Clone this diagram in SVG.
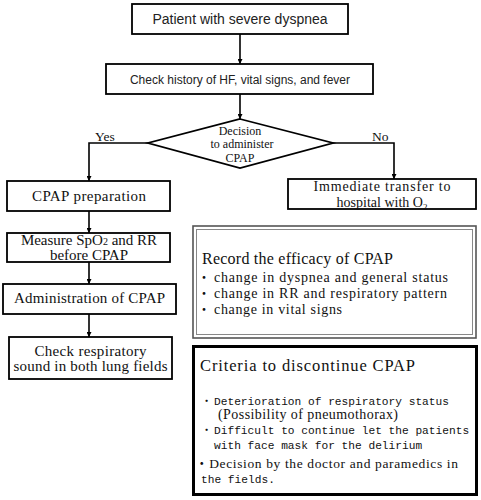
<svg xmlns="http://www.w3.org/2000/svg" width="481" height="500" viewBox="0 0 481 500">
<style>
.box{fill:#fff;stroke:#000;stroke-width:1.8}
.conn{fill:none;stroke:#000;stroke-width:1.6}
.sans{font-family:"Liberation Sans",Arial,sans-serif;fill:#222}
.ser{font-family:"Liberation Serif","Noto Sans CJK JP",serif;fill:#111}
.mono{font-family:"Liberation Mono","Noto Sans CJK JP",monospace;fill:#111;font-size:11.2px}
.c{text-anchor:middle}
</style>
<defs>
<marker id="ah" viewBox="0 0 10 10" refX="10" refY="5" markerWidth="5" markerHeight="5" orient="auto" markerUnits="userSpaceOnUse">
<path d="M0,0 L10,5 L0,10 z" fill="#000"/>
</marker>
</defs>
<rect width="481" height="500" fill="#fff"/>
<g id="connectors">
<path class="conn" d="M240,34 V64" marker-end="url(#ah)"/>
<path class="conn" d="M240,94 V119" marker-end="url(#ah)"/>
<path class="conn" d="M148,143 H89 V181" marker-end="url(#ah)"/>
<path class="conn" d="M333,143 H394 V179" marker-end="url(#ah)"/>
<path class="conn" d="M89,211 V233" marker-end="url(#ah)"/>
<path class="conn" d="M89,262 V284" marker-end="url(#ah)"/>
<path class="conn" d="M89,314 V337" marker-end="url(#ah)"/>
<text class="ser" x="95" y="141" font-size="13.5">Yes</text>
<text class="ser" x="372" y="141" font-size="13.5">No</text>
</g>
<g id="start">
<rect class="box" x="132" y="4" width="216" height="30"/>
<text class="sans c" x="240" y="24" font-size="14">Patient with severe dyspnea</text>
</g>
<g id="check-history">
<rect class="box" x="106" y="64" width="267" height="30"/>
<text class="sans c" x="240" y="84" font-size="12">Check history of HF, vital signs, and fever</text>
</g>
<g id="decision">
<polygon class="box" points="240,119 333,143 240,168 148,143"/>
<text class="ser c" x="240" y="135" font-size="12">Decision</text>
<text class="ser c" x="242" y="148" font-size="12">to administer</text>
<text class="ser c" x="240" y="162" font-size="12">CPAP</text>
</g>
<g id="cpap-prep">
<rect class="box" x="7" y="181" width="163" height="30"/>
<text class="ser c" x="89" y="201" font-size="15" textLength="114">CPAP preparation</text>
</g>
<g id="measure">
<rect class="box" x="7" y="233" width="163" height="29"/>
<text class="ser c" x="89" y="245" font-size="15">Measure SpO<tspan font-size="10">2</tspan> and RR</text>
<text class="ser c" x="89" y="260" font-size="15" textLength="78">before CPAP</text>
</g>
<g id="administration">
<rect class="box" x="3" y="284" width="173" height="30"/>
<text class="ser c" x="89.5" y="303" font-size="15" textLength="151">Administration of CPAP</text>
</g>
<g id="check-sound">
<rect class="box" x="9" y="337" width="163" height="42"/>
<text class="ser c" x="90.5" y="356" font-size="15" textLength="112">Check respiratory</text>
<text class="ser c" x="90.5" y="371" font-size="15" textLength="154">sound in both lung fields</text>
</g>
<g id="transfer">
<rect class="box" x="288" y="179" width="188" height="30"/>
<text class="ser c" x="382" y="191" font-size="14" textLength="137">Immediate transfer to</text>
<text class="ser c" x="382" y="207" font-size="14">hospital with O<tspan font-size="9" dy="3">2</tspan></text>
</g>
<g id="record">
<rect x="193" y="226" width="283" height="112" fill="#fff" stroke="#555" stroke-width="1.6"/>
<rect x="196.5" y="229.5" width="276" height="105" fill="none" stroke="#888" stroke-width="1"/>
<text class="ser" x="202" y="264" font-size="16" textLength="191">Record the efficacy of CPAP</text>
<text class="ser" x="197.5" y="282" font-size="13">・</text>
<text class="ser" x="214" y="282" font-size="14" textLength="234">change in dyspnea and general status</text>
<text class="ser" x="197.5" y="298" font-size="13">・</text>
<text class="ser" x="214" y="298" font-size="14" textLength="233">change in RR and respiratory pattern</text>
<text class="ser" x="197.5" y="314" font-size="13">・</text>
<text class="ser" x="214" y="314" font-size="14" textLength="128">change in vital signs</text>
</g>
<g id="criteria">
<rect x="193.5" y="346.5" width="283" height="148" fill="#fff" stroke="#000" stroke-width="3"/>
<text class="ser" x="200" y="371" font-size="16.5" textLength="215">Criteria to discontinue CPAP</text>
<text class="mono" x="201" y="405">・</text>
<text class="mono" x="214" y="405">Deterioration of respiratory status</text>
<text class="ser" x="218" y="419" font-size="14" textLength="180">(Possibility of pneumothorax)</text>
<text class="mono" x="201" y="434">・</text>
<text class="mono" x="214" y="434">Difficult to continue let the patients</text>
<text class="mono" x="214" y="449">with face mask for the delirium</text>
<text class="ser" x="195" y="468" font-size="13.5" textLength="263">・Decision by the doctor and paramedics in</text>
<text class="mono" x="201" y="483">the fields.</text>
</g>
</svg>
